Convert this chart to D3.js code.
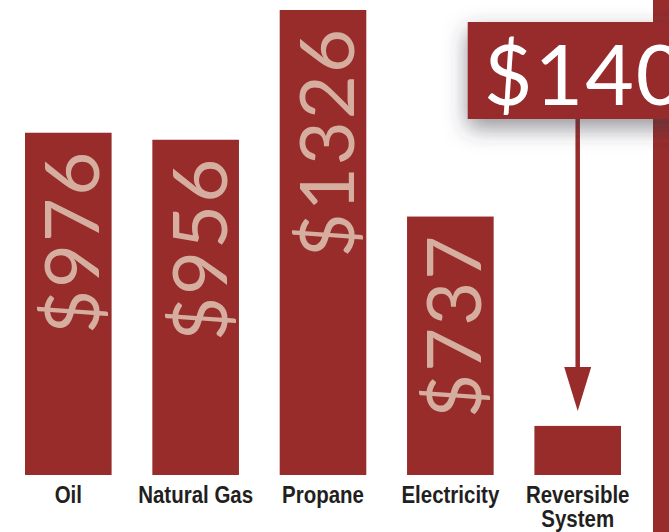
<!DOCTYPE html>
<html>
<head>
<meta charset="utf-8">
<script src="https://cdn.jsdelivr.net/npm/d3@7"></script>
<style>
  html, body { margin: 0; padding: 0; background: #fff; overflow: hidden; }
</style>
</head>
<body>
<div id="chart"></div>
<script>
// data
const categories = ["Oil", "Natural Gas", "Propane", "Electricity", "Reversible System"];
const costs = [976, 956, 1326, 737, 140];
const highlight = "Reversible System"; // the one with the callout box

const width = 669, height = 532;
const red = "#972c2b";

const svg = d3.select("#chart")
  .append("svg")
    .attr("width", width)
    .attr("height", height);

// drop shadow for the callout
const defs = svg.append("defs");
const filt = defs.append("filter")
  .attr("id", "shadow")
  .attr("x", "-30%").attr("y", "-60%")
  .attr("width", "160%").attr("height", "220%");
filt.append("feDropShadow")
  .attr("dx", 0).attr("dy", 9)
  .attr("stdDeviation", 11)
  .attr("flood-color", "#3a3a4a")
  .attr("flood-opacity", 0.55);

const x = d3.scaleBand()
  .domain(categories)
  .range([25, 621])
  .paddingInner(0.32)
  .paddingOuter(0);

const y = d3.scaleLinear()
  .domain([0, d3.max(costs)])
  .range([475, 10]);

const data = categories.map((c, i) => ({ name: c, value: costs[i] }));

// the red strip on the right edge (sits behind the callout)
svg.append("rect")
  .attr("x", 653)
  .attr("y", 0)
  .attr("width", 20)
  .attr("height", height)
  .attr("fill", red);

// bars
svg.selectAll("rect.bar")
  .data(data)
  .join("rect")
    .attr("class", "bar")
    .attr("x", d => x(d.name))
    .attr("y", d => y(d.value))
    .attr("width", x.bandwidth())
    .attr("height", d => y(0) - y(d.value))
    .attr("fill", red);

// rotated value labels inside the bars (not the small one)
svg.selectAll("text.val")
  .data(data.filter(d => d.name !== highlight))
  .join("text")
    .attr("class", "val")
    .attr("transform", d => `translate(${x(d.name) + x.bandwidth() / 2 + 31},${y(d.value) + 17}) rotate(-90)`)
    .attr("text-anchor", "end")
    .style("font-family", "Lato, 'Open Sans', sans-serif")
    .style("font-size", "76px")
    .style("letter-spacing", "2px")
    .attr("fill", "#d6aea0")
    .text(d => "$" + d.value);

// category labels under the bars, squeezed to look condensed
const lab = svg.selectAll("text.cat")
  .data(data)
  .join("text")
    .attr("class", "cat")
    .attr("transform", d => `translate(${x(d.name) + x.bandwidth() / 2},503) scale(0.89,1)`)
    .attr("text-anchor", "middle")
    .style("font-family", "'Liberation Sans', Arial, sans-serif")
    .style("font-weight", "bold")
    .style("font-size", "23px")
    .attr("fill", "#231f20");

lab.each(function(d) {
  const words = d.name === highlight ? d.name.split(" ") : [d.name];
  d3.select(this).selectAll("tspan")
    .data(words)
    .join("tspan")
      .attr("x", 0)
      .attr("dy", (w, i) => i ? 24 : 0)
      .text(w => w);
});

// callout for the small bar
const hd = data.find(d => d.name === highlight);
const cx = x(hd.name) + x.bandwidth() / 2;

// arrow
svg.append("line")
  .attr("x1", cx).attr("x2", cx)
  .attr("y1", 110)
  .attr("y2", y(hd.value) - 50)
  .attr("stroke", red)
  .attr("stroke-width", 4.5);
svg.append("path")
  .attr("d", d3.line()([[cx - 13.5, y(hd.value) - 59], [cx + 13.5, y(hd.value) - 59], [cx, y(hd.value) - 15]]) + "Z")
  .attr("fill", red);

// box + big label
svg.append("rect")
  .attr("x", cx - 110)
  .attr("y", 22)
  .attr("width", 260)
  .attr("height", 97)
  .attr("fill", red)
  .attr("filter", "url(#shadow)");

svg.append("text")
  .attr("x", cx - 94)
  .attr("y", 105)
  .style("font-family", "Lato, 'Open Sans', sans-serif")
  .style("font-size", "84px")
  .style("letter-spacing", "2px")
  .attr("fill", "#fff")
  .text("$" + hd.value);
</script>
</body>
</html>
